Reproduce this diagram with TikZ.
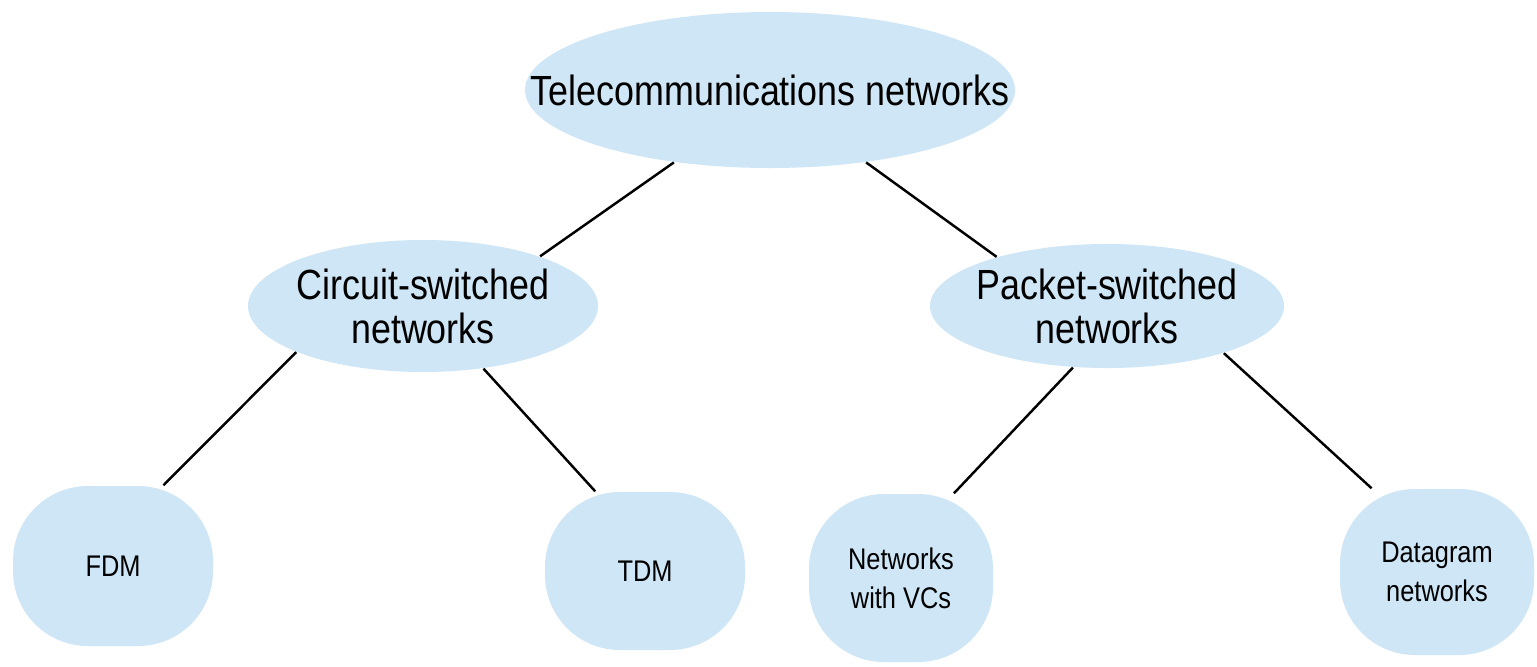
\documentclass[tikz,border=0pt]{standalone}
\usepackage{fontspec}
\setmainfont{Liberation Sans}
\newfontfamily\blobfont[FakeStretch=0.85]{Liberation Sans}
\usepackage{tikz}
\usetikzlibrary{shapes.geometric}
\usepackage{xcolor}
\definecolor{blobblue}{RGB}{206,230,246}

\tikzset{
  cloudnode/.style={ellipse,fill=blobblue,inner xsep=-1cm,inner ysep=0pt,align=center,
    font=\blobfont\fontsize{12}{12.5}\selectfont},
  leafnode/.style={rectangle,rounded corners=0.75cm,fill=blobblue,inner sep=0pt,align=center,
    font=\blobfont\fontsize{8.5}{11}\selectfont},
  link/.style={draw=black,line width=0.7pt}
}

\begin{document}
\begin{tikzpicture}
\useasboundingbox (0,0) rectangle (15.37,6.66);
\fill[white] (0,0) rectangle (15.37,6.66);

% root and the two families
\node[cloudnode,minimum width=4.9cm,minimum height=1.56cm] (tele) at (7.70,5.76) {Telecommunications networks};
\node[cloudnode,minimum width=3.5cm,minimum height=1.32cm] (circ) at (4.23,3.60) {Circuit-switched\\networks};
\node[cloudnode,minimum width=3.54cm,minimum height=1.24cm] (pack) at (11.07,3.60) {Packet-switched\\networks};

% leaves
\node[leafnode,minimum width=2.0cm,minimum height=1.6cm] (fdm) at (1.13,1.00) {FDM};
\node[leafnode,minimum width=2.0cm,minimum height=1.58cm] (tdm) at (6.45,0.95) {TDM};
\node[leafnode,minimum width=1.84cm,minimum height=1.68cm] (vcs) at (9.01,0.88) {Networks\\with VCs};
\node[leafnode,minimum width=1.94cm,minimum height=1.66cm] (dgram) at (14.37,0.94) {Datagram\\networks};

\draw[link] (tele.217) -- (circ.23);
\draw[link] (tele.-37) -- (pack.156);
\draw[link] (circ.200) -- (fdm.58);
\draw[link] (circ.-46) -- (tdm.122);
\draw[link] (pack.241) -- (vcs.58);
\draw[link] (pack.-22) -- (dgram.128);
\end{tikzpicture}
\end{document}
